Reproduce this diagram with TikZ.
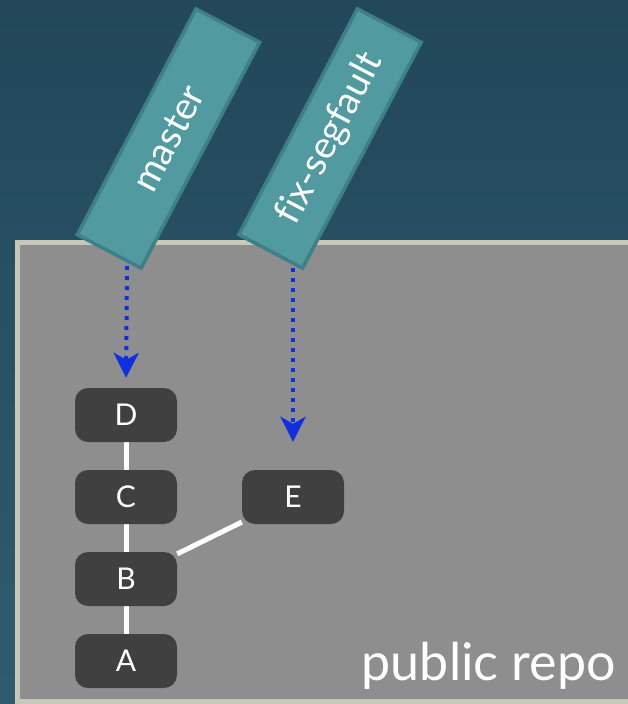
\documentclass[tikz,border=0pt]{standalone}
\usepackage{fontspec}
\setmainfont{Lato}[Ligatures={NoCommon}]
\usetikzlibrary{arrows.meta}
\definecolor{bgtop}{RGB}{34,72,90}
\definecolor{bgbot}{RGB}{46,92,110}
\definecolor{repofill}{RGB}{142,142,142}
\definecolor{repoedge}{RGB}{200,200,184}
\definecolor{commitgray}{RGB}{64,64,64}
\definecolor{branchfill}{RGB}{80,154,160}
\definecolor{branchedge}{RGB}{62,128,136}
\definecolor{ptrblue}{RGB}{16,48,224}
\pgfdeclarelayer{back}
\pgfdeclarelayer{edges}
\pgfsetlayers{back,edges,main}
\begin{document}
\begin{tikzpicture}[x=1pt,y=1pt,
  commit/.style={rounded corners=13pt, fill=commitgray, minimum width=102pt,
    minimum height=54pt, text=white, inner sep=0pt,
    font=\fontsize{30}{30}\selectfont},
  branch/.style={fill=branchfill, draw=branchedge, line width=3.5pt,
    minimum width=255pt, minimum height=72pt, inner sep=0pt, rotate=62.3,
    text=white, font=\fontsize{38}{38}\selectfont},
  link/.style={draw=white, line width=5pt},
  pointer/.style={draw=ptrblue, line width=4pt, dash pattern=on 4pt off 6pt,
    -{Stealth[length=25pt,width=25pt,inset=7pt]}}]
\useasboundingbox (0,0) rectangle (628,-704);
\begin{pgfonlayer}{back}
  \shade[top color=bgtop, bottom color=bgbot] (0,0) rectangle (628,-704);
  \draw[fill=repofill, draw=repoedge, line width=5pt] (17,-242) rectangle (660,-701);
\end{pgfonlayer}
% commits
\node[commit] (D) at (126,-415) {D};
\node[commit] (C) at (126,-497) {C};
\node[commit] (B) at (126,-579) {B};
\node[commit] (A) at (126,-661) {A};
\node[commit] (E) at (293,-497) {E};
\begin{pgfonlayer}{edges}
  \path[link] (D) -- (C);
  \path[link] (C) -- (B);
  \path[link] (B) -- (A);
  \path[link] (B) -- (E);
\end{pgfonlayer}
% branches
\node[branch] (master) at (168.5,-138.5) {master};
\node[branch] (fix) at (330,-138.5) {fix-segfault};
\coordinate (mstart) at (127,-266);
\coordinate (fstart) at (293,-268);
\path[pointer] (mstart) -- ([yshift=10pt]D.north);
\path[pointer] (fstart) -- ([yshift=28pt]E.north);
\node[anchor=base east, text=white, inner sep=0pt,
  font=\fontsize{52}{52}\selectfont] (repo) at (616,-680) {public repo};
\end{tikzpicture}
\end{document}
